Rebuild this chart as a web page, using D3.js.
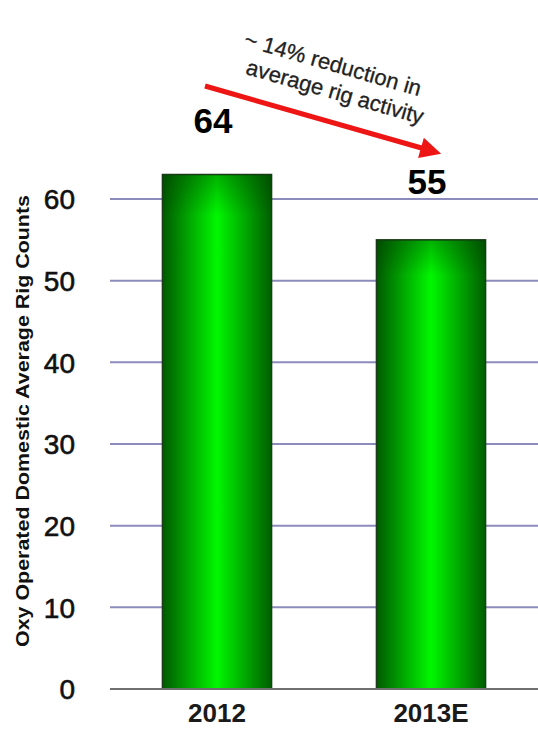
<!DOCTYPE html>
<html>
<head>
<meta charset="utf-8">
<script src="https://cdn.jsdelivr.net/npm/d3@7"></script>
<style>
  body { margin: 0; background: #fff; }
  svg { display: block; font-family: Arial, "Liberation Sans", sans-serif; }
</style>
</head>
<body>
<svg class="chart-rigs" width="538" height="729"></svg>
<script>
var categories = ["2012", "2013E"];
var rigCounts = [63, 55];
var valueLabels = ["64", "55"];
var yTicks = [0, 10, 20, 30, 40, 50, 60];
var yTitle = "Oxy Operated Domestic Average Rig Counts";
var noteLines = ["~ 14% reduction in", "average rig activity"];

var plot = {
    left: 110,
    right: 538,
    top: 199,
    bottom: 689
};

var svg = d3.select("svg.chart-rigs");

var x = d3.scaleBand()
          .domain(categories)
          .range([plot.left, plot.right])
          .paddingInner(0.49)
          .paddingOuter(0.245);

var y = d3.scaleLinear()
          .domain([0, 60])
          .range([plot.bottom, plot.top]);

// gradient for the bars
var defs = svg.append("defs");
var grad = defs.append("linearGradient")
               .attr("id", "barGrad")
               .attr("x1", "0%").attr("x2", "100%")
               .attr("y1", "0%").attr("y2", "0%");
grad.append("stop").attr("offset", "0%").attr("stop-color", "#005a00");
grad.append("stop").attr("offset", "50%").attr("stop-color", "#00f800");
grad.append("stop").attr("offset", "100%").attr("stop-color", "#005e00");

var shade = defs.append("linearGradient")
                .attr("id", "barShade")
                .attr("x1", "0%").attr("x2", "0%")
                .attr("y1", "0%").attr("y2", "100%");
shade.append("stop").attr("offset", "0%").attr("stop-color", "#003000").attr("stop-opacity", 0.35);
shade.append("stop").attr("offset", "8%").attr("stop-color", "#003000").attr("stop-opacity", 0);

// grid lines
svg.selectAll("line.grid")
   .data(yTicks.filter(function (d) { return d > 0; }))
   .enter()
   .append("line")
   .attr("class", "grid")
   .attr("x1", plot.left)
   .attr("x2", plot.right)
   .attr("y1", function (d) { return y(d); })
   .attr("y2", function (d) { return y(d); })
   .attr("stroke", "#8c8cbc")
   .attr("stroke-width", 2);

// y axis tick labels
var yAxis = d3.axisLeft(y)
              .tickValues(yTicks)
              .tickSize(0)
              .tickPadding(0);

var yg = svg.append("g")
            .attr("transform", "translate(75,0)")
            .call(yAxis);
yg.select(".domain").remove();
yg.selectAll("text")
  .attr("font-size", 28)
  .attr("font-family", "Arial, 'Liberation Sans', sans-serif")
  .attr("fill", "#111")
  .attr("stroke", "#111")
  .attr("stroke-width", 0.6)
  .attr("dy", "0.35em");

// bars
svg.selectAll("rect.bar")
   .data(rigCounts)
   .enter()
   .append("rect")
   .attr("class", "bar")
   .attr("x", function (d, i) { return x(categories[i]); })
   .attr("y", function (d) { return y(d); })
   .attr("width", x.bandwidth())
   .attr("height", function (d) { return y(0) - y(d); })
   .attr("fill", "url(#barGrad)")
   .attr("stroke", "#1c3c1c")
   .attr("stroke-width", 1.5);

svg.selectAll("rect.barShade")
   .data(rigCounts)
   .enter()
   .append("rect")
   .attr("class", "barShade")
   .attr("x", function (d, i) { return x(categories[i]); })
   .attr("y", function (d) { return y(d); })
   .attr("width", x.bandwidth())
   .attr("height", function (d) { return y(0) - y(d); })
   .attr("fill", "url(#barShade)");

// baseline
svg.append("line")
   .attr("x1", plot.left)
   .attr("x2", plot.right)
   .attr("y1", y(0))
   .attr("y2", y(0))
   .attr("stroke", "#707070")
   .attr("stroke-width", 2);

// category labels
var xAxis = d3.axisBottom(x).tickSize(0).tickPadding(0);
var xg = svg.append("g")
            .attr("transform", "translate(0," + y(0) + ")")
            .call(xAxis);
xg.select(".domain").remove();
xg.selectAll("text")
  .attr("font-size", 26)
  .attr("font-weight", "bold")
  .attr("font-family", "Arial, 'Liberation Sans', sans-serif")
  .attr("fill", "#1a1a1a")
  .attr("dy", null)
  .attr("y", 33);

// value labels above bars
var labelOffset = [42, 46];
svg.selectAll("text.value")
   .data(valueLabels)
   .enter()
   .append("text")
   .attr("class", "value")
   .attr("x", function (d, i) { return x(categories[i]) + x.bandwidth() / 2 - 4; })
   .attr("y", function (d, i) { return y(rigCounts[i]) - labelOffset[i]; })
   .attr("text-anchor", "middle")
   .attr("font-size", 35)
   .attr("font-weight", "bold")
   .attr("fill", "#000")
   .text(function (d) { return d; });

// y axis title
svg.append("text")
   .attr("transform", "translate(29,421) rotate(-90)")
   .attr("text-anchor", "middle")
   .attr("font-size", 19)
   .attr("font-weight", "bold")
   .attr("fill", "#111")
   .attr("textLength", 452)
   .attr("lengthAdjust", "spacingAndGlyphs")
   .text(yTitle);

// red arrow
defs.append("marker")
    .attr("id", "head")
    .attr("viewBox", "0 0 10 10")
    .attr("refX", 2)
    .attr("refY", 5)
    .attr("markerWidth", 4.6)
    .attr("markerHeight", 4.2)
    .attr("orient", "auto")
    .append("path")
    .attr("d", "M0,0 L10,5 L0,10 Z")
    .attr("fill", "#ee1515");

svg.append("line")
   .attr("x1", 205)
   .attr("y1", 86)
   .attr("x2", 425)
   .attr("y2", 149)
   .attr("stroke", "#ee1515")
   .attr("stroke-width", 5)
   .attr("marker-end", "url(#head)");

// annotation text
svg.selectAll("text.note")
   .data(noteLines)
   .enter()
   .append("text")
   .attr("class", "note")
   .attr("transform", function (d, i) {
       return "translate(" + (331 + i * 2) + "," + (71 + i * 28) + ") rotate(16)";
   })
   .attr("text-anchor", "middle")
   .attr("font-size", 22)
   .attr("fill", "#222")
   .attr("stroke", "#222")
   .attr("stroke-width", 0.3)
   .text(function (d) { return d; });
</script>
</body>
</html>
